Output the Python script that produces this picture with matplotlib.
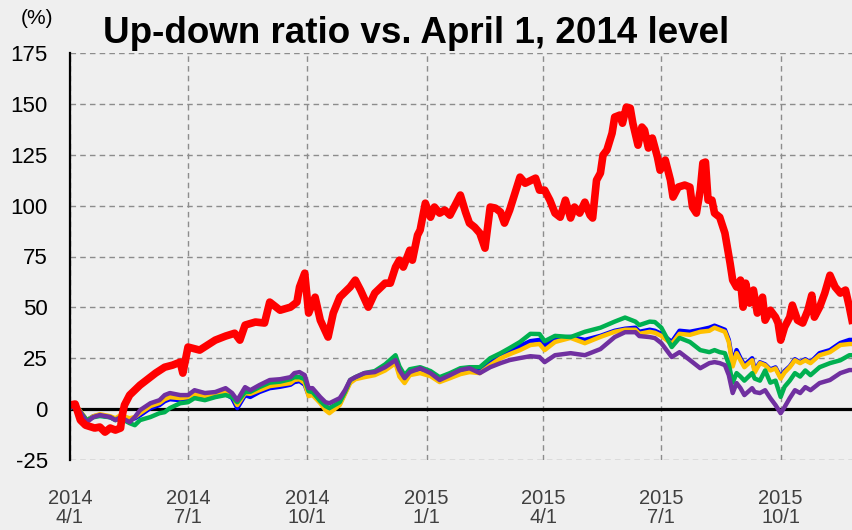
import numpy as np
import pandas as pd
import matplotlib
matplotlib.use('Agg')
import matplotlib.pyplot as plt

plt.rcParams['font.family'] = ['Liberation Sans', 'DejaVu Sans']
plt.rcParams['axes.unicode_minus'] = False

# days since 2014-04-01 and values (%)
red_days = [0, 4, 8, 12, 19, 23, 27, 31, 35, 39, 40, 42, 46, 54, 62, 66, 73, 79, 85, 87,
            91, 100, 112, 120, 127, 131, 135, 143, 150, 154, 162, 170, 175, 177, 181, 184,
            189, 193, 199, 203, 208, 216, 220, 224, 230, 235, 243, 247, 251, 254, 257, 262,
            264, 268, 270, 274, 278, 281, 285, 289, 293, 297, 301, 305, 308, 312, 316, 320,
            324, 328, 332, 335, 339, 347, 351, 359, 362, 366, 370, 374, 378, 382, 386, 389,
            393, 397, 401, 403, 406, 409, 411, 414, 418, 420, 424, 426, 429, 432, 434, 438,
            441, 443, 446, 449, 453, 455, 459, 463, 465, 469, 474, 478, 480, 483, 486, 488,
            490, 492, 495, 497, 501, 505, 509, 511, 514, 517, 519, 521, 524, 527, 530, 534,
            536, 540, 544, 546, 548, 551, 555, 557, 561, 565, 569, 572, 574, 578, 582, 586,
            590, 594, 598, 601, 603]
red_vals = [2, 2.5, -5.4, -7.9, -9.3, -8.8, -11.3, -9.3, -10.3, -9.3, -3.9, 2, 6.9, 11.8,
            15.7, 17.7, 20.6, 21.6, 23.1, 17.7, 30.5, 29, 33.9, 35.9, 37.3, 33.9, 41.3, 42.8,
            42.3, 52.6, 48.6, 50.1, 52.6, 60, 66.8, 47.2, 55, 43.7, 35.4, 47.2, 55, 60, 63.4,
            58.5, 50.1, 57, 61.9, 61.9, 69.8, 73.2, 69.8, 78.1, 73.2, 85.5, 88, 101.2, 94.3,
            99.3, 96.3, 97.8, 95.3, 100.2, 105.2, 96.8, 91.4, 89.4, 86.5, 79.1, 99.3, 98.8,
            96.8, 91.4, 97.8, 114, 111, 113.5, 107.6, 107.6, 102.7, 96.3, 94.3, 102.7, 93.9,
            99.3, 96.3, 101.7, 95.3, 93.9, 112.5, 116, 124.8, 127.3, 135.6, 143.5, 144.5,
            140.5, 148.4, 147.9, 140.5, 129.7, 138.6, 137.1, 128.3, 133.2, 123.8, 117.4,
            122.4, 112.5, 104.2, 109.1, 110.1, 109.1, 99.3, 96.3, 107.6, 120.9, 121.4, 102.7,
            102.7, 96.3, 94.3, 86.5, 71.7, 63.4, 60, 63.4, 50.1, 61.9, 52.1, 58.5, 47.2, 55,
            43.7, 48.6, 45.2, 42.3, 33.9, 40.3, 45.2, 51.1, 43.7, 42.3, 48.6, 56, 45.2, 50.1,
            57, 65.8, 60, 57, 58.5, 50.1, 43.7]

days = [0, 4, 8, 13, 18, 23, 31, 35, 39, 46, 50, 54, 62, 69, 73, 77, 85, 91, 96, 104,
        112, 120, 125, 129, 135, 139, 146, 154, 162, 170, 173, 177, 181, 184, 187, 193, 197,
        200, 208, 212, 216, 220, 227, 235, 243, 251, 254, 258, 262, 270, 278, 285, 293, 301,
        308, 316, 324, 332, 339, 347, 355, 362, 366, 374, 386, 397, 409, 420, 428, 436, 439,
        447, 451, 456, 464, 470, 478, 486, 493, 497, 501, 505, 508, 511, 514, 517, 520, 526,
        528, 532, 536, 540, 544, 548, 551, 555, 559, 563, 567, 571, 578, 586, 594, 601, 603]

purple = [0.5, 2.5, -1.5, -6.4, -3.9, -2.9, -3.9, -5.4, -3.9, -6.4,
          -3.9, -0.5, 2.9, 4.4, 6.9, 7.9, 6.9, 6.9, 9.3, 7.9,
          8.4, 10.3, 7.9, 4.4, 10.8, 9.3, 11.8, 14.3, 14.7, 15.7,
          17.7, 18.2, 16.7, 10.3, 10.3, 5.9, 3.4, 2.9, 5.4, 9.3,
          14.3, 15.7, 17.7, 18.2, 20.6, 24.1, 19.2, 15.2, 18.2, 20.1,
          17.7, 14.3, 16.7, 19.2, 20.1, 17.7, 20.6, 22.6, 24.1, 25.1,
          26, 25.6, 23.1, 26.5, 27.5, 26.5, 29.5, 35.4, 37.8, 37.8,
          35.9, 35.4, 34.9, 32.4, 25.6, 28, 24.1, 20.1, 22.6, 23.1,
          22.6, 21.6, 16.7, 7.9, 12.8, 10.3, 6.9, 10.3, 8.4, 7.9,
          9.3, 5.4, 2, -2, 1, 5.4, 9.3, 7.9, 10.8, 9.3,
          12.8, 14.3, 17.7, 19.2, 19.2]
green = [0.5, 2, -1.5, -5.4, -4, -3.4, -4, -5.4, -4.5, -6.9,
         -7.9, -5.4, -3.9, -2, -1.5, 0.5, 2.9, 3.4, 5.4, 4.4,
         5.9, 6.9, 5.9, 3.4, 8.4, 8.5, 10.8, 13, 13.5, 14.7,
         15.7, 15.7, 14.7, 8.8, 8.4, 3.9, 1.5, 0.5, 3.4, 8.4,
         14.3, 15.7, 17.7, 18.7, 22, 26.5, 21, 16.7, 19.6, 20.6,
         18.7, 15.7, 17.7, 20.1, 20.6, 20.6, 25, 27.5, 30, 33,
         37, 36.9, 33.4, 36, 35.4, 38, 40, 43, 45, 43,
         41.3, 43, 42.8, 40, 30.5, 35, 33, 29, 28, 29,
         28, 27.5, 22, 13, 17.7, 16, 14, 17.7, 15, 14,
         19, 13, 14, 6, 11, 14, 17.7, 16, 19, 16.7,
         20.6, 22.6, 24, 26.5, 26.5]
yellow = [0.5, 2.5, -1, -5.5, -3.5, -2.5, -3.5, -4.5, -3, -4.5,
          -3.9, -2, 1.5, 3, 4.9, 5.9, 5.4, 5.9, 7.4, 6.4,
          7.4, 8.4, 6.9, 2, 7.9, 7.5, 9.3, 11.3, 12, 12.8,
          14.3, 14.7, 12.8, 6.4, 6.9, 2.9, -0.5, -2, 2, 7.4,
          12.8, 14.7, 15.7, 16.7, 19, 22.6, 16, 12.8, 16.7, 17.7,
          16.2, 13.3, 15.2, 17.2, 18.2, 17.7, 21.6, 25, 27, 29,
          31.5, 32, 29, 33, 35, 32.4, 35.5, 38, 39, 39,
          37, 38, 37.5, 36, 32, 37, 36.5, 38, 38.5, 40,
          39, 38, 33, 21, 27.5, 24, 20.6, 24, 18, 22.6,
          21.6, 19, 20, 15, 18, 20.6, 24, 22.6, 24, 22.6,
          26.5, 28, 31.5, 32, 32]
blue = [0.5, 2, -1.5, -5.5, -3.5, -3, -4, -5, -3.5, -5,
        -4.5, -3, 0.5, 2, 3.9, 4.9, 4.4, 5, 6.4, 5.4,
        6.4, 7.4, 5.5, 0.5, 6.9, 6, 8.4, 10.3, 11, 12,
        13.3, 13.8, 12, 6.9, 7.4, 3.4, 0.5, -1, 2.5, 7.9,
        13.3, 15.2, 16.2, 17.2, 19.6, 23.6, 17.2, 14, 17.7, 18.7,
        17.2, 14.3, 16.2, 18.2, 19.2, 19.6, 22.6, 26, 28.5, 31,
        33.4, 34, 31, 35, 35.5, 34, 36, 38.5, 39.5, 40,
        38, 39, 38.5, 37, 33, 38.5, 38, 39, 40, 41,
        40, 39, 34, 22.6, 29, 25, 21.6, 25, 19, 23,
        22, 19.5, 20.5, 15.7, 18.7, 21, 24.5, 23, 24.5, 23,
        27.5, 29, 32.5, 34, 34]

tick_dates = ['2014-04-01', '2014-07-01', '2014-10-01', '2015-01-01',
              '2015-04-01', '2015-07-01', '2015-10-01']
tick_labels = ['2014\n4/1', '2014\n7/1', '2014\n10/1', '2015\n1/1',
               '2015\n4/1', '2015\n7/1', '2015\n10/1']

base = pd.Timestamp('2014-04-01')
x_red = base + pd.to_timedelta(red_days, unit='D')
x = base + pd.to_timedelta(days, unit='D')

bg = '#efefef'
fig = plt.figure(figsize=(8.52, 5.30), dpi=100, facecolor=bg)
ax = fig.add_axes([70 / 852, 1 - 460 / 530, 1 - 70 / 852, 407 / 530])
ax.set_facecolor(bg)

ax.plot(x, blue, color='#0000ff', lw=3.2, zorder=3, solid_joinstyle='round')
ax.plot(x, yellow, color='#ffc000', lw=3.2, zorder=4, solid_joinstyle='round')
ax.plot(x, green, color='#00b050', lw=3.2, zorder=5, solid_joinstyle='round')
ax.plot(x, purple, color='#7030a0', lw=3.2, zorder=6, solid_joinstyle='round')
ax.plot(x_red, red_vals, color='#ff0000', lw=5.5, zorder=7, solid_joinstyle='round')

ax.axhline(0, color='black', lw=2.3, zorder=2)

ax.set_ylim(-25, 175)
ax.set_yticks(np.arange(-25, 176, 25))
ax.set_xlim(base, base + pd.Timedelta(days=603))
ax.set_xticks(pd.to_datetime(tick_dates))
ax.set_xticklabels(tick_labels)

ax.grid(True, color='#8c8c8c', linestyle=(0, (4, 3)), lw=1.0, zorder=1)
for s in ['top', 'right', 'bottom']:
    ax.spines[s].set_visible(False)
ax.spines['left'].set_linewidth(1.6)
ax.spines['left'].set_zorder(8)

ax.tick_params(axis='y', length=0, pad=16, labelsize=16, labelcolor='black')
ax.tick_params(axis='x', length=0, pad=21, labelsize=14.5, labelcolor='#404040')
for lab in ax.get_xticklabels():
    lab.set_linespacing(1.0)

fig.text(103 / 852, 1 - 43 / 530, 'Up-down ratio vs. April 1, 2014 level',
         fontsize=26.5, fontweight='bold', ha='left', va='baseline')
fig.text(37 / 852, 1 - 18 / 530, '(%)', fontsize=15, ha='center', va='center')

fig.savefig('out.png', dpi=100, facecolor=bg)
